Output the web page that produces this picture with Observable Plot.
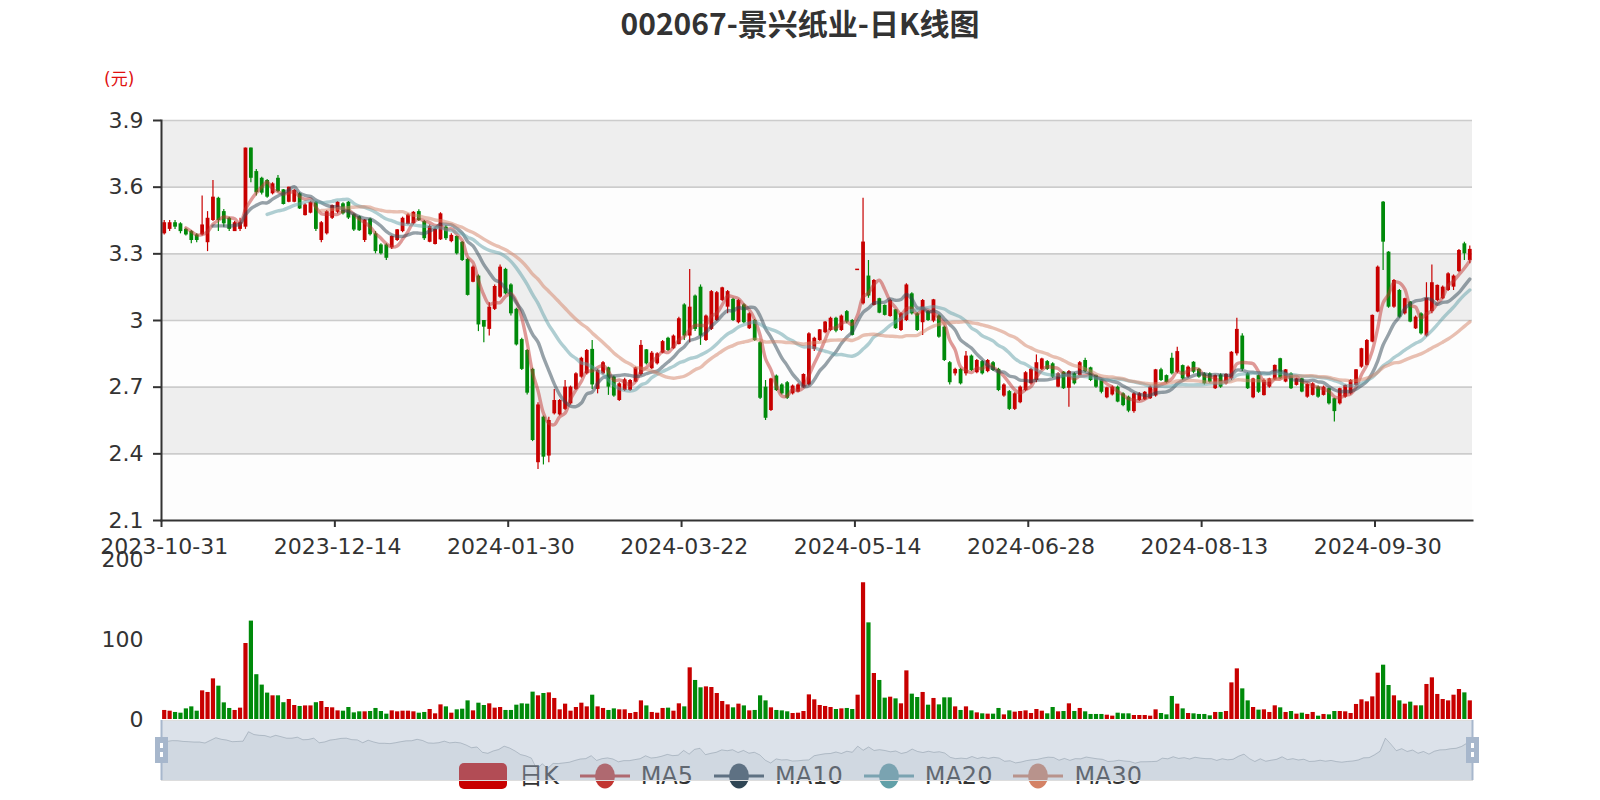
<!DOCTYPE html>
<html><head><meta charset="utf-8">
<script src="https://cdn.jsdelivr.net/npm/d3@7"></script>
<script src="https://cdn.jsdelivr.net/npm/@observablehq/plot@0.6"></script>
<style>
body{margin:0;background:#fff;}
#wrap{position:relative;width:1600px;height:800px;overflow:hidden;font-family:"DejaVu Sans",sans-serif;background:#fff;}
.abs{position:absolute;left:0;}
</style></head><body><div id="wrap"></div>
<script>
// ---------- data ----------
const titleText = "002067-景兴纸业-日K线图";
const unitText = "(元)";
const tickIdx = [0,32,64,96,128,160,192,224];
const tickLabels = ["2023-10-31","2023-12-14","2024-01-30","2024-03-22","2024-05-14","2024-06-28","2024-08-13","2024-09-30"];
const yTicks = [2.1,2.4,2.7,3.0,3.3,3.6,3.9];
const volTicks = [0,100,200];
const legendNames = ["日K","MA5","MA10","MA20","MA30"];
const maPeriods = [5,10,20,30];
const maColors = ["#c23531","#2f4554","#61a0a8","#d48265"];
const upColor = "#c80000", downColor = "#008a0a";

const open = [
3.39,3.41,3.44,3.435,3.41,3.40,3.385,3.385,3.35,3.45,
3.55,3.49,3.46,3.40,3.41,3.42,3.776,3.67,3.64,3.63,
3.57,3.64,3.588,3.532,3.532,3.57,3.472,3.483,3.532,3.36,
3.39,3.46,3.487,3.525,3.532,3.476,3.467,3.36,3.456,3.39,
3.34,3.34,3.327,3.36,3.40,3.432,3.435,3.49,3.445,3.352,
3.342,3.363,3.42,3.355,3.378,3.352,3.275,3.172,3.20,3.00,
2.96,3.05,3.105,3.23,3.16,3.05,2.914,2.865,2.78,2.36,
2.565,2.39,2.58,2.575,2.60,2.625,2.69,2.745,2.76,2.87,
2.69,2.76,2.787,2.745,2.64,2.685,2.685,2.723,2.757,2.868,
2.783,2.805,2.853,2.92,2.873,2.892,3.07,2.93,3.11,3.15,
2.91,2.96,3.0,3.09,3.06,3.095,2.99,3.07,2.963,3.0,
2.90,2.70,2.595,2.75,2.71,2.72,2.67,2.678,2.70,2.71,
2.87,2.91,2.945,2.955,3.01,2.955,3.04,3.0,3.23,3.075,
3.20,3.068,3.098,3.068,3.018,3.048,2.955,3.0,3.12,3.03,
2.99,3.04,2.997,3.02,2.97,2.81,2.76,2.78,2.76,2.84,
2.765,2.815,2.77,2.81,2.78,2.66,2.68,2.60,2.63,2.685,
2.715,2.73,2.78,2.815,2.805,2.70,2.768,2.695,2.76,2.752,
2.82,2.787,2.753,2.733,2.652,2.665,2.70,2.67,2.655,2.59,
2.64,2.643,2.648,2.66,2.778,2.752,2.83,2.767,2.797,2.745,
2.812,2.78,2.76,2.76,2.693,2.755,2.715,2.737,2.85,2.93,
2.76,2.652,2.752,2.662,2.70,2.733,2.828,2.723,2.76,2.708,
2.7375,2.655,2.663,2.70,2.663,2.693,2.648,2.625,2.655,2.67,
2.708,2.79,2.798,2.903,3.038,3.5325,3.3075,3.06,3.135,3.03,
3.083,2.9625,3.03,2.93,3.04,3.09,3.098,3.135,3.15,3.22,
3.345,3.27];
const close = [
3.44,3.44,3.42,3.40,3.385,3.36,3.36,3.43,3.46,3.555,
3.45,3.435,3.41,3.44,3.44,3.776,3.64,3.575,3.573,3.555,
3.615,3.58,3.522,3.60,3.585,3.502,3.52,3.532,3.41,3.44,
3.49,3.517,3.532,3.48,3.461,3.407,3.404,3.452,3.386,3.31,
3.30,3.28,3.378,3.408,3.46,3.475,3.487,3.45,3.368,3.423,
3.41,3.48,3.368,3.383,3.30,3.27,3.113,3.24,2.98,2.97,
3.06,3.153,3.24,3.12,3.03,2.89,2.78,2.673,2.46,2.62,
2.385,2.55,2.64,2.64,2.70,2.70,2.76,2.83,2.865,2.71,
2.775,2.81,2.70,2.66,2.715,2.733,2.73,2.787,2.888,2.805,
2.853,2.85,2.905,2.865,2.93,3.008,2.93,3.06,2.96,2.93,
3.02,3.13,3.125,3.147,3.13,3.0,3.09,2.99,3.03,2.91,
2.65,2.56,2.737,2.685,2.67,2.65,2.705,2.71,2.757,2.94,
2.92,2.958,2.993,3.01,2.952,3.02,2.993,2.933,3.23,3.353,
3.11,3.18,3.033,3.023,3.09,2.963,3.03,3.16,3.03,2.955,
3.09,3.0,3.093,2.925,2.82,2.72,2.78,2.715,2.84,2.775,
2.82,2.76,2.82,2.775,2.685,2.71,2.60,2.67,2.70,2.765,
2.78,2.81,2.827,2.78,2.745,2.76,2.693,2.77,2.715,2.81,
2.77,2.73,2.70,2.677,2.697,2.70,2.633,2.617,2.592,2.67,
2.67,2.677,2.70,2.778,2.73,2.72,2.76,2.86,2.737,2.79,
2.767,2.745,2.715,2.722,2.752,2.70,2.757,2.857,2.96,2.78,
2.693,2.737,2.677,2.73,2.7375,2.798,2.738,2.778,2.693,2.7375,
2.678,2.712,2.715,2.655,2.70,2.625,2.59,2.693,2.708,2.73,
2.778,2.873,2.91,3.023,3.24,3.3525,3.06,3.18,3.015,3.098,
2.993,3.015,2.94,3.10,3.17,3.158,3.15,3.21,3.20,3.315,
3.30,3.32];
const high = [
3.45,3.45,3.45,3.44,3.415,3.405,3.39,3.56,3.49,3.63,
3.555,3.50,3.465,3.445,3.46,3.776,3.776,3.68,3.645,3.635,
3.62,3.653,3.59,3.60,3.59,3.575,3.525,3.535,3.535,3.445,
3.495,3.52,3.535,3.53,3.535,3.48,3.47,3.455,3.46,3.40,
3.345,3.345,3.38,3.41,3.465,3.48,3.49,3.498,3.45,3.43,
3.415,3.485,3.425,3.39,3.38,3.355,3.28,3.245,3.205,3.00,
3.08,3.16,3.25,3.235,3.165,3.055,2.92,2.87,2.785,2.63,
2.57,2.565,2.69,2.645,2.73,2.705,2.765,2.835,2.87,2.91,
2.78,2.815,2.79,2.75,2.72,2.74,2.735,2.79,2.91,2.87,
2.86,2.855,2.91,2.925,2.935,3.015,3.075,3.23,3.115,3.16,
3.025,3.135,3.13,3.15,3.135,3.10,3.095,3.075,3.035,3.005,
2.905,2.73,2.74,2.755,2.715,2.725,2.71,2.715,2.76,2.945,
2.925,2.96,2.995,3.015,3.015,3.025,3.045,3.005,3.23,3.55,
3.27,3.185,3.10,3.07,3.095,3.05,3.035,3.165,3.125,3.035,
3.095,3.045,3.095,3.025,2.975,2.815,2.785,2.785,2.86,2.845,
2.825,2.82,2.825,2.815,2.785,2.715,2.685,2.675,2.705,2.77,
2.785,2.845,2.83,2.82,2.81,2.765,2.77,2.775,2.765,2.815,
2.83,2.79,2.755,2.735,2.70,2.705,2.705,2.675,2.66,2.675,
2.675,2.68,2.705,2.78,2.785,2.755,2.853,2.88,2.80,2.795,
2.815,2.785,2.765,2.765,2.755,2.76,2.76,2.86,3.01,2.94,
2.765,2.74,2.755,2.737,2.74,2.80,2.83,2.78,2.765,2.74,
2.74,2.715,2.72,2.705,2.705,2.695,2.65,2.695,2.71,2.735,
2.78,2.875,2.915,3.025,3.245,3.535,3.31,3.185,3.14,3.10,
3.085,3.02,3.035,3.17,3.25,3.16,3.155,3.215,3.205,3.32,
3.352,3.335];
const low = [
3.385,3.40,3.41,3.39,3.38,3.345,3.35,3.38,3.31,3.445,
3.40,3.42,3.40,3.40,3.40,3.41,3.62,3.56,3.565,3.55,
3.565,3.575,3.52,3.53,3.53,3.50,3.47,3.48,3.40,3.35,
3.385,3.455,3.48,3.475,3.455,3.40,3.40,3.351,3.38,3.30,
3.295,3.27,3.32,3.355,3.395,3.43,3.43,3.445,3.36,3.35,
3.34,3.36,3.36,3.35,3.295,3.265,3.11,3.17,2.95,2.90,
2.93,3.045,3.10,3.115,3.02,2.885,2.775,2.665,2.455,2.33,
2.35,2.36,2.575,2.57,2.595,2.62,2.685,2.74,2.755,2.69,
2.67,2.755,2.663,2.655,2.635,2.68,2.68,2.72,2.75,2.80,
2.78,2.80,2.85,2.86,2.87,2.89,2.91,2.90,2.95,2.888,
2.905,2.955,2.995,3.085,3.03,2.995,2.985,2.985,2.96,2.905,
2.645,2.55,2.59,2.68,2.665,2.645,2.665,2.675,2.695,2.705,
2.86,2.905,2.94,2.95,2.945,2.95,2.985,2.93,3.23,3.07,
3.10,3.065,3.03,3.02,3.015,2.96,2.95,2.995,3.025,2.95,
2.933,2.995,2.99,2.92,2.815,2.71,2.75,2.71,2.75,2.77,
2.76,2.755,2.765,2.77,2.68,2.655,2.595,2.595,2.625,2.68,
2.71,2.72,2.775,2.775,2.74,2.697,2.69,2.61,2.71,2.75,
2.765,2.725,2.695,2.67,2.648,2.66,2.63,2.612,2.585,2.583,
2.635,2.64,2.645,2.655,2.725,2.715,2.755,2.76,2.73,2.74,
2.76,2.74,2.71,2.718,2.69,2.695,2.71,2.73,2.84,2.77,
2.69,2.648,2.672,2.66,2.695,2.73,2.735,2.72,2.69,2.705,
2.675,2.65,2.66,2.65,2.66,2.62,2.543,2.62,2.65,2.665,
2.705,2.785,2.795,2.90,3.035,3.225,3.055,3.055,3.01,3.025,
2.99,2.96,2.935,2.925,3.03,3.085,3.095,3.13,3.135,3.215,
3.27,3.255];
const volume = [
11.3,10.4,8.8,7.9,13.3,15.8,10.4,35.8,33.8,50.8,
41.7,20.8,13.8,11.3,14.2,95,123,56,43,33,
29.6,29.6,21,25,17.5,16.3,17,17,21,22.5,
15,14.6,10.8,10.4,15,8.3,9.6,9.6,10,13.8,
10,6.7,10.8,9.6,10.4,10.4,9.6,7.9,8.8,12.5,
7.1,18.3,15.8,7.9,12.1,12.9,23.3,10.8,20.4,17.5,
19.6,14.2,15,11.3,11.3,17.9,19.6,19.2,34.2,29.6,
32.5,33.3,26.3,12.1,19.2,10.4,15,20.4,15.8,30.4,
15.8,13.8,11.3,13.3,12.1,12.1,7.5,8.8,23.3,17,
8.8,7.9,13.8,14.2,10.4,19.6,15.8,64.6,48.8,39.6,
40.8,40,32.5,22.5,18.3,14.6,19.2,17,10.8,11.3,
29.6,23.3,14.6,11.3,10.8,9.6,7.5,7.9,10,30.8,
24.6,17.5,16.3,15,12.5,13.3,13.8,12.5,30.4,170.8,
120.8,57.5,48.8,26.7,27.9,25.8,19.6,60.8,31.7,27.5,
33.8,17.9,26.3,18.3,27.1,27.1,15.8,11.3,15.8,10.8,
8.3,7.1,6.7,6.7,13.8,5.8,10.8,9.2,10,10.8,
7.5,12.5,10.4,7.1,15,9.6,10,19.6,10,13.8,
9.6,6.3,6.3,6.3,5.4,4.2,7.9,7.1,7.1,5,
5,5,4.2,12.1,7.5,5.8,28.8,19.2,13.3,7.5,
7.1,6.3,6.3,4.6,8.8,8.8,10,45.8,63.3,38.3,
23.3,15,11.7,12.1,8.8,17.1,14.6,8.8,10,6.7,
7.9,6.3,8.8,4.2,6.3,5.8,10,10,9.6,7.5,
18.8,24.6,22.1,28.3,57.9,67.9,42.5,29.6,23.3,19.2,
21.7,17.1,17.1,43.8,52.1,31.3,25,23.3,30.4,37.5,
33.3,23.3];

// ---------- build ----------
const N = close.length;
const data = close.map((c, i) => ({i, o: open[i], c, h: high[i], l: low[i], v: volume[i]}));
const isUp = d => d.c > d.o || (d.c === d.o && (d.i === 0 || d.c >= close[d.i - 1]));
const col = d => isUp(d) ? upColor : downColor;
const mas = maPeriods.map(p => close.map((_, i) => i < p - 1 ? null : d3.mean(close.slice(i - p + 1, i + 1))));
const bands = yTicks.slice(0, -1).map((t, k) => ({y1: t, y2: yTicks[k + 1], f: k % 2 ? "#eeeeee" : "#fdfdfd"}));
const xDomain = [-0.5, N - 0.5];
const FONT = '"DejaVu Sans", sans-serif';
const wrap = document.getElementById("wrap");

function place(node, top, z) {
  node.classList.add("abs");
  node.style.top = top + "px";
  node.style.zIndex = z;
  wrap.appendChild(node);
  return node;
}

// title
const t = document.createElement("div");
t.textContent = titleText;
Object.assign(t.style, {width: "1600px", textAlign: "center", font: 'bold 30px "Noto Sans CJK SC", sans-serif', color: "#333", lineHeight: "36px"});
place(t, 4, 5);

// unit
const u = document.createElement("div");
u.textContent = unitText;
Object.assign(u.style, {font: '17px "DejaVu Sans", "Noto Sans CJK SC", sans-serif', color: "#e01010", lineHeight: "20px"});
place(u, 69, 5);
u.style.left = "104px";

// price chart
const price = Plot.plot({
  width: 1600, height: 560,
  marginTop: 120, marginBottom: 40, marginLeft: 161, marginRight: 128,
  style: {fontFamily: FONT, color: "#333", background: "transparent", overflow: "visible"},
  x: {type: "linear", domain: xDomain},
  y: {domain: [2.1, 3.9]},
  marks: [
    Plot.rect(bands, {y1: "y1", y2: "y2", fill: "f"}),
    Plot.ruleY(yTicks.slice(1), {stroke: "#cccccc", strokeWidth: 1.6}),
    Plot.ruleX(data, {x: "i", y1: "l", y2: "h", stroke: col, strokeWidth: 1.2}),
    Plot.ruleX(data, {x: "i", y1: "o", y2: "c", stroke: col, strokeWidth: 3.8}),
    Plot.ruleY(data.filter(d => d.o === d.c), {x1: d => d.i - 0.36, x2: d => d.i + 0.36, y: "c", stroke: col, strokeWidth: 1.5}),
    ...maPeriods.map((p, k) => Plot.line(data, {x: "i", y: d => mas[k][d.i], stroke: maColors[k], strokeOpacity: 0.5, strokeWidth: 3.4, curve: "catmull-rom"})),
    Plot.axisY({ticks: yTicks, label: null, tickSize: 8, tickPadding: 10, tickFormat: d => String(+d.toFixed(1)), stroke: "#333", strokeWidth: 2, fontSize: 22}),
    Plot.axisX({ticks: tickIdx, label: null, tickFormat: i => tickLabels[tickIdx.indexOf(i)], tickSize: 0, tickPadding: 18, fontSize: 22}),
    Plot.axisX({ticks: tickIdx.map(i => i - 0.5), label: null, tickFormat: () => "", tickSize: 7, stroke: "#333", strokeWidth: 2}),
    Plot.frame({anchor: "left", stroke: "#333", strokeWidth: 2}),
    Plot.frame({anchor: "bottom", stroke: "#333", strokeWidth: 2})
  ]
});
place(price, 0, 1);

// volume chart
const vol = Plot.plot({
  width: 1600, height: 200,
  marginTop: 19, marginBottom: 21, marginLeft: 161, marginRight: 128,
  style: {fontFamily: FONT, color: "#333", background: "transparent", overflow: "visible"},
  x: {type: "linear", domain: xDomain, axis: null},
  y: {domain: [0, 200]},
  marks: [
    Plot.ruleX(data, {x: "i", y1: 0, y2: "v", stroke: col, strokeWidth: 4.2}),
    Plot.axisY({ticks: volTicks, label: null, tickSize: 0, tickPadding: 18, fontSize: 22})
  ]
});
place(vol, 540, 2);

// legend
const leg = document.createElement("div");
Object.assign(leg.style, {width: "1600px", height: "26px", display: "flex", justifyContent: "center", alignItems: "center", gap: "21px"});
const svgNS = "http://www.w3.org/2000/svg";
legendNames.forEach((name, k) => {
  const item = document.createElement("div");
  Object.assign(item.style, {display: "flex", alignItems: "center", gap: "11px"});
  const s = document.createElementNS(svgNS, "svg");
  s.setAttribute("width", 50); s.setAttribute("height", 26);
  if (k === 0) {
    const r = document.createElementNS(svgNS, "rect");
    r.setAttribute("x", 1); r.setAttribute("y", 0); r.setAttribute("width", 48); r.setAttribute("height", 26);
    r.setAttribute("rx", 5); r.setAttribute("fill", upColor);
    s.appendChild(r);
  } else {
    const c = maColors[k - 1];
    const l = document.createElementNS(svgNS, "line");
    l.setAttribute("x1", 0); l.setAttribute("x2", 50); l.setAttribute("y1", 13); l.setAttribute("y2", 13);
    l.setAttribute("stroke", c); l.setAttribute("stroke-width", 3);
    s.appendChild(l);
    const e = document.createElementNS(svgNS, "ellipse");
    e.setAttribute("cx", 25); e.setAttribute("cy", 13); e.setAttribute("rx", 10); e.setAttribute("ry", 12.5);
    e.setAttribute("fill", c);
    s.appendChild(e);
  }
  item.appendChild(s);
  const tx = document.createElement("span");
  tx.textContent = name;
  Object.assign(tx.style, {font: '24px "DejaVu Sans", "Noto Sans CJK SC", sans-serif', color: "#333", lineHeight: "26px"});
  item.appendChild(tx);
  leg.appendChild(item);
});
place(leg, 763, 3);

// data zoom slider
const oExt = d3.extent(open);
const pad = (oExt[1] - oExt[0]) * 0.3;
const slider = Plot.plot({
  width: 1600, height: 60,
  marginTop: 0, marginBottom: 0, marginLeft: 161, marginRight: 128,
  style: {background: "transparent", overflow: "visible"},
  x: {type: "linear", domain: [0, N - 1], axis: null},
  y: {domain: [oExt[0] - pad, oExt[1] + pad], axis: null},
  marks: [
    Plot.areaY(data, {x: "i", y1: oExt[0] - pad, y2: "o", fill: "#2f4554", fillOpacity: 0.09}),
    Plot.lineY(data, {x: "i", y: "o", stroke: "#2f4554", strokeOpacity: 0.3, strokeWidth: 1}),
    Plot.frame({fill: "#a7b7cb", fillOpacity: 0.4, stroke: "#dddddd"}),
    Plot.ruleX([0, N - 1], {stroke: "#a7b7cc", strokeWidth: 2}),
    Plot.tickX([0, N - 1], {stroke: "#a7b7cc", strokeWidth: 13, insetTop: 17, insetBottom: 17}),
    Plot.tickX([0, N - 1], {stroke: "#ffffff", strokeWidth: 3, insetTop: 23, insetBottom: 32}),
    Plot.tickX([0, N - 1], {stroke: "#ffffff", strokeWidth: 3, insetTop: 32, insetBottom: 23})
  ]
});
place(slider, 720, 4);
</script></body></html>
